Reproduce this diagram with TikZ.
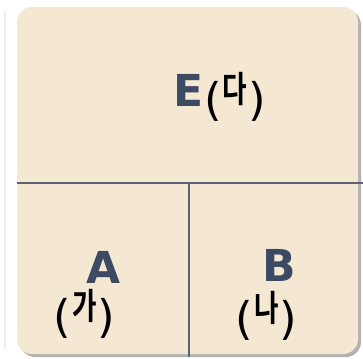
\documentclass[tikz,border=0pt]{standalone}
\usepackage{fontspec}
\setmainfont{DejaVu Sans}
\newfontfamily\korfont{Noto Sans CJK KR}[BoldFont={Noto Sans CJK KR Bold}]
\usepackage{xcolor}
\usetikzlibrary{positioning}

\definecolor{cellfill}{HTML}{F5E8D3}
\definecolor{rulecol}{HTML}{5B6272}
\definecolor{lettercol}{HTML}{3D4A63}

\newcommand{\kortag}[1]{{\fontsize{45}{45}\selectfont(\hspace{1pt}\raisebox{13pt}{\korfont\bfseries\fontsize{36}{36}\selectfont\scalebox{0.74}[1]{#1}}\hspace{1pt})}}

\begin{document}
\begin{tikzpicture}[
    x=1pt, y=-1pt,
    letter/.style={
        inner sep=0pt,
        text=lettercol,
        font=\fontsize{44}{44}\selectfont\bfseries
    },
    tag/.style={
        inner sep=0pt,
        anchor=base,
        text=black
    },
    divider/.style={draw=rulecol, line width=2pt}
]

\useasboundingbox (0,0) rectangle (363,358);

% faint edge and shadow
\draw[gray!12, line width=2pt] (5,10) -- (5,350);
\fill[black!30, rounded corners=15pt] (20,10) rectangle (361,357);
\fill[cellfill, rounded corners=15pt] (17,7) rectangle (358,354);

% cell dividers
\coordinate (hl) at (17,183);
\coordinate (hr) at (363,183);
\coordinate (vt) at (189,183);
\coordinate (vb) at (189,357);
\draw[divider] (hl) -- (hr);
\draw[divider] (vt) -- (vb);

% labels
\node[letter] (E) at (189,90.5) {E};
\node[tag] (Etag) at (235,116) {\kortag{다}};

\node[letter] (A) at (104,267.5) {A};
\node[tag] (Atag) at (84.5,332) {\kortag{가}};

\node[letter] (B) at (279,265) {B};
\node[tag] (Btag) at (266.5,334) {\kortag{나}};

\end{tikzpicture}
\end{document}
